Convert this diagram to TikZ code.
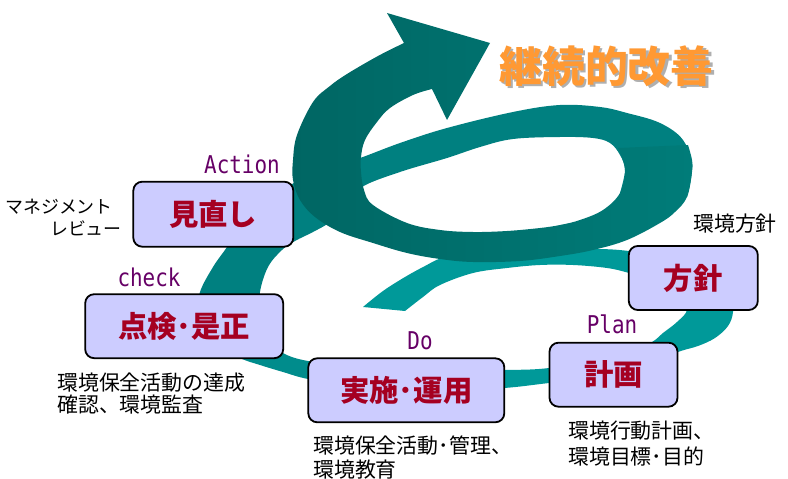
\documentclass[tikz,border=0pt]{standalone}
\usepackage{fontspec}
\newfontfamily\jp{Noto Sans CJK JP}
\newfontfamily\mono{DejaVu Sans Mono}
\definecolor{tealA}{RGB}{0,153,153}
\definecolor{tealB}{RGB}{0,140,140}
\definecolor{tealC}{RGB}{0,128,128}
\definecolor{darkL}{RGB}{0,102,99}
\definecolor{darkR}{RGB}{0,124,121}
\definecolor{boxfill}{RGB}{204,204,255}
\definecolor{boxtext}{RGB}{165,0,33}
\definecolor{lbl}{RGB}{102,0,102}
\definecolor{orng}{RGB}{255,153,51}
\definecolor{shad}{RGB}{175,175,175}
\tikzset{
  stagebox/.style={draw=black, line width=1.8bp, rounded corners=9bp, fill=boxfill,
    inner sep=0pt, text=boxtext, font=\jp\bfseries\fontsize{29.5}{31}\selectfont},
  phase/.style={inner sep=0pt, text=lbl, font=\mono\fontsize{21}{24}\selectfont},
  note/.style={inner sep=0pt, anchor=west, text=black, font=\jp\fontsize{21}{24}\selectfont},
  kana/.style={inner sep=0pt, anchor=east, text=black, font=\jp\fontsize{18}{20}\selectfont},
  title/.style={inner sep=0pt, font=\jp\bfseries\fontsize{43}{46}\selectfont},
}
\begin{document}
\begin{tikzpicture}[x=1bp,y=-1bp]
\useasboundingbox (0,0) rectangle (788,479);
% segment A: tail -> Hoshin -> Keikaku -> Jisshi
\fill[tealA] plot[smooth,tension=0.6] coordinates {(363,307) (383,291) (405,277) (425,266) (442,258) (470,253) (520,251) (590,249) (629,251) (680,259) (715,275) (731,295) (733,312) (728,326) (715,338) (698,346) (678,352) (640,367) (600,377) (549,383) (504,388) (450,390) (395,389)}
  -- plot[smooth,tension=0.6] coordinates {(395,368) (450,370) (504,370) (549,368) (600,358) (635,348) (652,342) (663,333) (677,322) (687,310) (682,295) (662,283) (629,273) (607,268) (573,265) (540,265) (507,268) (473,273) (440,285) (423,297) (405,311)}
  -- cycle;
% segment B: Jisshi -> Tenken
\fill[tealB] plot[smooth,tension=0.6] coordinates {(405,389) (350,385) (308,379) (283,372) (260,365) (240,358) (215,343) (201,322) (199,312)}
  -- plot[smooth,tension=0.6] coordinates {(261,312) (264,325) (272,340) (283,353) (308,361) (350,365) (405,368)}
  -- cycle;
% segment C: Tenken -> Minaoshi -> upper band
\fill[tealC] plot[smooth,tension=0.6] coordinates {(205,333) (199,312) (200,292) (213,267) (227,247) (243,222) (262,203) (285,188) (310,175) (335,165) (360,158) (400,143) (447,128) (513,112) (560,105) (600,107) (627,113) (660,123) (683,140) (692,167) (687,197)}
  -- plot[smooth,tension=0.6] coordinates {(620,193) (625,170) (620,155) (610,143) (593,138) (560,137) (513,139) (480,147) (447,158) (400,172) (362,187) (347,205) (330,222) (313,232) (295,241) (282,250) (268,267) (260,292) (261,312) (266,333)}
  -- cycle;
% dark lower loop and arrow
\shade[left color=darkL, right color=darkR] plot[smooth,tension=0.6] coordinates {(688,145) (692,160) (692,172) (687,197) (675,212) (660,223) (627,240) (593,250) (560,256) (520,261) (473,262) (440,259) (407,253) (373,243) (340,232) (315,217) (300,200) (293,180) (293,160) (297,135) (313,102) (330,86) (347,74) (378,56) (404,43)}
  -- (387,13) -- (490,43) -- (447,120) -- (432,89)
  -- plot[smooth,tension=0.6] coordinates {(432,89) (413,95) (390,108) (377,122) (365,140) (361,157) (361,172) (364,190) (373,205) (407,223) (440,230) (473,232) (507,231) (540,228) (560,225) (580,220) (603,210) (620,193) (625,170) (618,148)}
  -- cycle;
% title with its drop shadow
\node[title, text=orng] (title) at (606.5,67.5) {\makebox[0pt][l]{\hspace{2.5bp}\raisebox{-2.5bp}{\color{shad}継続的改善}}継続的改善};
% stage boxes
\node[stagebox, minimum width=160bp, minimum height=65bp] (minaoshi) at (213.3,214.2) {見直し};
\node[stagebox, minimum width=198bp, minimum height=64bp] (tenken) at (184.2,326.2) {点検･是正};
\node[stagebox, minimum width=196bp, minimum height=64bp] (jisshi) at (406.3,390.3) {実施･運用};
\node[stagebox, minimum width=128bp, minimum height=64bp] (keikaku) at (613.5,374.7) {計画};
\node[stagebox, minimum width=129bp, minimum height=64bp] (hoshin) at (693.3,278) {方針};
% phase labels
\node[phase] (action) at (242,164) {\scalebox{1}[1.17]{Action}};
\node[phase] (check) at (149,277) {\scalebox{1}[1.17]{check}};
\node[phase] (do) at (420,341) {\scalebox{1}[1.17]{Do}};
\node[phase] (plan) at (612,324) {\scalebox{1}[1.17]{Plan}};
% notes
\node[kana] (mr1) at (113,207) {マネジメント};
\node[kana] (mr2) at (122,228) {レビュー};
\node[note] (ck1) at (57,383) {環境保全活動の達成};
\node[note] (ck2) at (57,405) {確認、環境監査};
\node[note] (do1) at (313,446) {環境保全活動･管理、};
\node[note] (do2) at (313,470) {環境教育};
\node[note] (pl1) at (568,431) {環境行動計画、};
\node[note] (pl2) at (568,457) {環境目標･目的};
\node[note] (hs1) at (693,224) {環境方針};
\end{tikzpicture}
\end{document}
